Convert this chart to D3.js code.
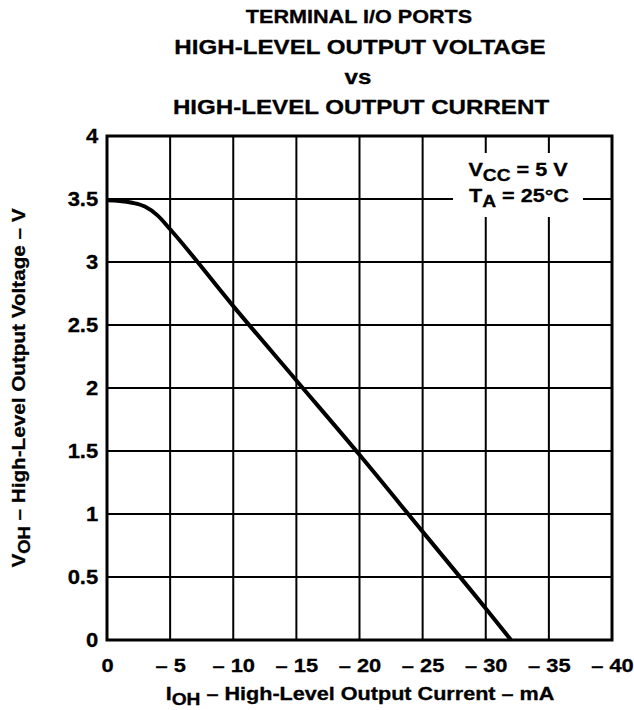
<!DOCTYPE html>
<html><head><meta charset="utf-8">
<script src="https://cdn.jsdelivr.net/npm/d3@7"></script>
<style>body{margin:0;background:#fff}svg{display:block}text{font-family:"Liberation Sans",Arial,sans-serif;font-weight:bold;fill:#000;stroke:#000;stroke-width:0.3px}</style>
</head><body>
<script>
const currents = [0, -1, -2, -3, -4, -5, -10, -15, -20, -25, -30, -32];
const voltages = [3.49, 3.485, 3.47, 3.44, 3.37, 3.26, 2.65, 2.06, 1.47, 0.86, 0.25, 0];
const xTicks = [0, -5, -10, -15, -20, -25, -30, -35, -40];
const yTicks = [0, 0.5, 1, 1.5, 2, 2.5, 3, 3.5, 4];
const xTickLabels = ["0", "– 5", "– 10", "– 15", "– 20", "– 25", "– 30", "– 35", "– 40"];
const yTickLabels = ["0", "0.5", "1", "1.5", "2", "2.5", "3", "3.5", "4"];
const titleLines = ["TERMINAL I/O PORTS", "HIGH-LEVEL OUTPUT VOLTAGE", "vs", "HIGH-LEVEL OUTPUT CURRENT"];

const W = 634, H = 710;
const L = 107, R = 612, T = 136, B = 640;
const svg = d3.select("body").append("svg").attr("width", W).attr("height", H);
const x = d3.scaleLinear().domain([0, -40]).range([L, R]);
const y = d3.scaleLinear().domain([0, 4]).range([B, T]);

// grid
const g = svg.append("g");
g.selectAll("line.v").data(xTicks.slice(1, -1)).join("line")
  .attr("x1", d => x(d)).attr("x2", d => x(d)).attr("y1", T).attr("y2", B)
  .attr("stroke", "#000").attr("stroke-width", 2);
g.selectAll("line.h").data(yTicks.slice(1, -1)).join("line")
  .attr("y1", d => y(d)).attr("y2", d => y(d)).attr("x1", L).attr("x2", R)
  .attr("stroke", "#000").attr("stroke-width", 2);

// legend background + text
svg.append("rect").attr("x", 453).attr("y", 153).attr("width", 130).attr("height", 64).attr("fill", "#fff");
function subText(cx, cy, sx, size, main, sub, rest, rot) {
  const gg = svg.append("g").attr("transform", `translate(${cx},${cy})${rot ? " rotate(-90)" : ""} scale(${sx},1)`);
  const t = gg.append("text").attr("text-anchor", "middle").attr("font-size", size);
  t.append("tspan").text(main);
  t.append("tspan").attr("font-size", size - 2).attr("dy", 5).text(sub);
  t.append("tspan").attr("dy", -5).text(rest);
  return gg;
}
subText(518, 176, 1.2, 18, "V", "CC", " = 5 V");
subText(519, 202, 1.2, 18, "T", "A", " = 25°C");

// frame
svg.append("rect").attr("x", L).attr("y", T).attr("width", R - L).attr("height", B - T)
  .attr("fill", "none").attr("stroke", "#000").attr("stroke-width", 3);

// curve
const line = d3.line().x((d, i) => x(currents[i])).y(d => y(d)).curve(d3.curveMonotoneX);
svg.append("path").datum(voltages).attr("d", line).attr("fill", "none")
  .attr("stroke", "#000").attr("stroke-width", 4).attr("stroke-linejoin", "round");

// axes
const xAxis = d3.axisBottom(x).tickValues(xTicks).tickSize(0).tickPadding(19)
  .tickFormat((d, i) => xTickLabels[i]);
const xa = svg.append("g").attr("transform", `translate(0,${B})`).call(xAxis);
xa.select(".domain").remove();
xa.selectAll("text").attr("font-size", 19).attr("font-family", null).attr("fill", null).attr("transform", "scale(1.15,1)");
const yAxis = d3.axisLeft(y).tickValues(yTicks).tickSize(0).tickPadding(8)
  .tickFormat((d, i) => yTickLabels[i]);
const ya = svg.append("g").attr("transform", `translate(${L},0)`).call(yAxis);
ya.select(".domain").remove();
ya.selectAll("text").attr("font-size", 20).attr("font-family", null).attr("fill", null).attr("transform", "scale(1.1,1)");

// titles
const tys = [23, 54, 84, 114];
const tsz = [18, 21, 21, 21];
const tsx = [1.2, 1.15, 1.15, 1.15];
const tcx = [359, 360, 358, 361];
titleLines.forEach((t, i) => {
  svg.append("g").attr("transform", `translate(${tcx[i]},${tys[i]}) scale(${tsx[i]},1)`)
    .append("text").attr("text-anchor", "middle").attr("font-size", tsz[i]).text(t);
});

// axis titles
subText(360, 700, 1.2, 18, "I", "OH", " – High-Level Output Current – mA");
subText(25, 388, 1.15, 18, "V", "OH", " – High-Level Output Voltage – V", true);
</script>
</body></html>
